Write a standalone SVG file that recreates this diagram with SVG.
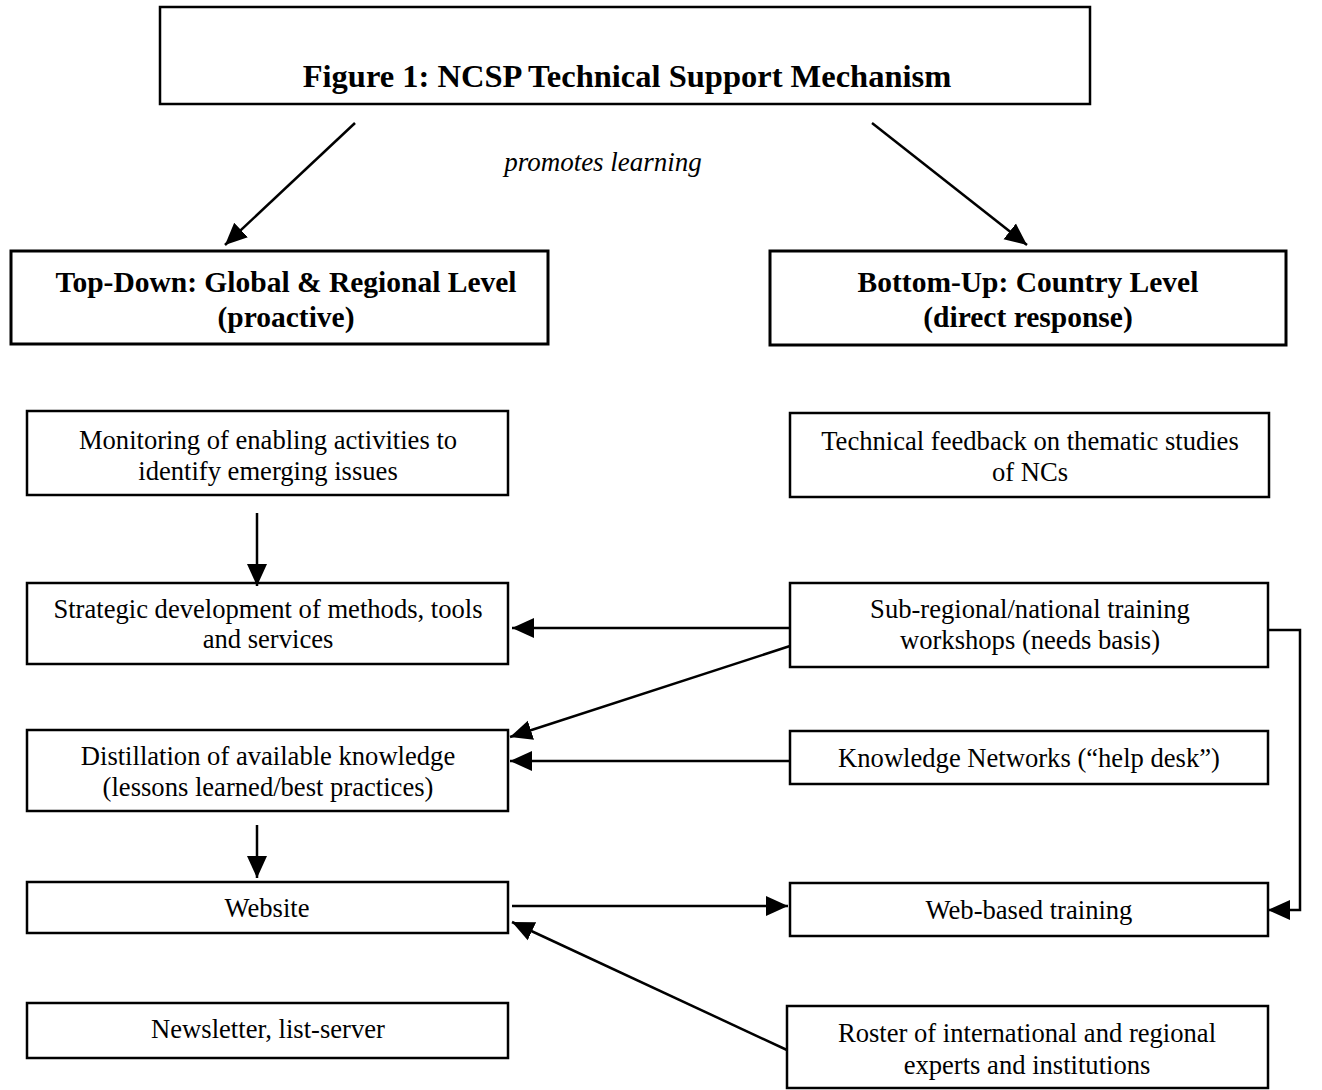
<svg xmlns="http://www.w3.org/2000/svg" width="1322" height="1090" viewBox="0 0 1322 1090">
<style>
.box{fill:#fff;stroke:#000;stroke-width:2.5}
.hbox{fill:#fff;stroke:#000;stroke-width:3}
.t{font-family:"Liberation Serif","Times New Roman",serif;font-size:26.6px;fill:#000;text-anchor:middle}
.b{font-weight:bold;font-size:29.5px}
.title{font-family:"Liberation Serif","Times New Roman",serif;font-weight:bold;font-size:32.5px;text-anchor:middle}
.it{font-style:italic;font-size:27px}
.c{fill:none;stroke:#000;stroke-width:2.5}
</style>
<defs>
<marker id="ah" markerUnits="userSpaceOnUse" markerWidth="26" markerHeight="22" refX="22" refY="11" orient="auto">
<path d="M0,1 L22,11 L0,21 Z" fill="#000"/>
</marker>
</defs>
<rect width="1322" height="1090" fill="#fff"/>
<g id="title">
<rect class="box" x="160" y="7" width="930" height="97"/>
<text class="title" x="627" y="87">Figure 1: NCSP Technical Support Mechanism</text>
</g>
<g id="label-promotes">
<text class="t it" x="603" y="171">promotes learning</text>
</g>
<g id="topdown">
<rect class="hbox" x="11" y="251" width="537" height="93"/>
<text class="t b" x="286" y="292">Top-Down: Global &amp; Regional Level</text>
<text class="t b" x="286" y="327">(proactive)</text>
</g>
<g id="bottomup">
<rect class="hbox" x="770" y="251" width="516" height="94"/>
<text class="t b" x="1028" y="292">Bottom-Up: Country Level</text>
<text class="t b" x="1028" y="327">(direct response)</text>
</g>
<g id="monitoring">
<rect class="box" x="27" y="411" width="481" height="84"/>
<text class="t" x="268" y="449">Monitoring of enabling activities to</text>
<text class="t" x="268" y="480">identify emerging issues</text>
</g>
<g id="feedback">
<rect class="box" x="790" y="413" width="479" height="84"/>
<text class="t" x="1030" y="450">Technical feedback on thematic studies</text>
<text class="t" x="1030" y="481">of NCs</text>
</g>
<g id="strategic">
<rect class="box" x="27" y="583" width="481" height="81"/>
<text class="t" x="268" y="618">Strategic development of methods, tools</text>
<text class="t" x="268" y="648">and services</text>
</g>
<g id="subregional">
<rect class="box" x="790" y="583" width="478" height="84"/>
<text class="t" x="1030" y="618">Sub-regional/national training</text>
<text class="t" x="1030" y="649">workshops (needs basis)</text>
</g>
<g id="distillation">
<rect class="box" x="27" y="730" width="481" height="81"/>
<text class="t" x="268" y="765">Distillation of available knowledge</text>
<text class="t" x="268" y="796">(lessons learned/best practices)</text>
</g>
<g id="knowledge">
<rect class="box" x="790" y="731" width="478" height="53"/>
<text class="t" x="1029" y="767">Knowledge Networks (“help desk”)</text>
</g>
<g id="website">
<rect class="box" x="27" y="882" width="481" height="51"/>
<text class="t" x="267" y="917">Website</text>
</g>
<g id="webtraining">
<rect class="box" x="790" y="883" width="478" height="53"/>
<text class="t" x="1029" y="919">Web-based training</text>
</g>
<g id="newsletter">
<rect class="box" x="27" y="1003" width="481" height="55"/>
<text class="t" x="268" y="1038">Newsletter, list-server</text>
</g>
<g id="roster">
<rect class="box" x="787" y="1006" width="481" height="82"/>
<text class="t" x="1027" y="1042">Roster of international and regional</text>
<text class="t" x="1027" y="1074">experts and institutions</text>
</g>
<g id="connectors">
<line class="c" x1="355" y1="123" x2="225" y2="245" marker-end="url(#ah)"/>
<line class="c" x1="872" y1="123" x2="1027" y2="245" marker-end="url(#ah)"/>
<line class="c" x1="257" y1="513" x2="257" y2="586" marker-end="url(#ah)"/>
<line class="c" x1="790" y1="628" x2="512" y2="628" marker-end="url(#ah)"/>
<line class="c" x1="790" y1="646" x2="510" y2="737" marker-end="url(#ah)"/>
<line class="c" x1="790" y1="761" x2="510" y2="761" marker-end="url(#ah)"/>
<line class="c" x1="257" y1="825" x2="257" y2="878" marker-end="url(#ah)"/>
<line class="c" x1="512" y1="906" x2="788" y2="906" marker-end="url(#ah)"/>
<polyline class="c" points="1268,630 1300,630 1300,910 1268,910" marker-end="url(#ah)"/>
<line class="c" x1="787" y1="1050" x2="512" y2="922" marker-end="url(#ah)"/>
</g>
</svg>
